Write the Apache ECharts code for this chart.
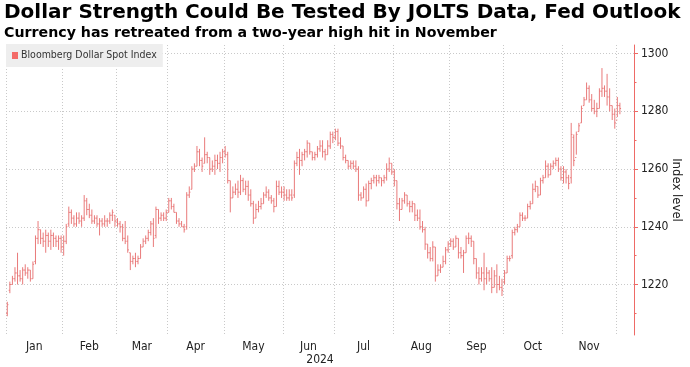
<!DOCTYPE html>
<html>
<head>
<meta charset="utf-8">
<script src="https://cdn.jsdelivr.net/npm/echarts@6/dist/echarts.min.js"></script>
<style>
html,body{margin:0;padding:0;background:#fff;}
#chart{width:690px;height:367px;}
</style>
</head>
<body>
<div id="chart"></div>
<script>
// ---------- DATA ----------
const titleText = 'Dollar Strength Could Be Tested By JOLTS Data, Fed Outlook';
const subtitleText = 'Currency has retreated from a two-year high hit in November';
const seriesName = 'Bloomberg Dollar Spot Index';
const yAxisName = 'Index level';
const yearLabel = '2024';
const monthLabels = ['Jan','Feb','Mar','Apr','May','Jun','Jul','Aug','Sep','Oct','Nov'];
const yTickValues = [1220, 1240, 1260, 1280, 1300];
const yMinorTickValues = [1210, 1230, 1250, 1270, 1290];
const yMin = 1202.5, yMax = 1303;

// trading-day categories (weekdays, exchange holidays removed), axis runs a few days past the data
const firstDay = '2024-01-02', lastDay = '2024-12-10';
const holidays = ['2024-03-29'];

// OHLC, one value per trading day from 2 Jan 2024 to 3 Dec 2024
const opens = [
1210,1218,1220,1222,1224,1223,1222,1225,1224,1225,1222,1228,1236,1239,1236,1235,1237,1235,1237,1236,1235,1236,
1233,1235,1241,1245,1243,1241,1243,1242,1243,1249,1246,1244,1242,1243,1241,1242,1241,1242,1242,1244,1244,
1242,1241,1240,1236,1235,1231,1228,1229,1228,1229,1233,1235,1236,1238,1241,1237,1246,1243,1244,1243,
1245,1249,1247,1245,1242,1241,1240,1240,1251,1253,1260,1261,1266,1263,1262,1265,1264,1260,1261,1263,1262,1264,
1266,1265,1256,1250,1252,1253,1252,1256,1253,1254,1251,1248,1243,1246,1247,1248,1251,1252,1250,1249,1247,1254,1252,
1252,1251,1250,1251,1251,1262,1264,1263,1265,1266,1269,1266,1264,1265,1267,1268,1266,1265,1268,1272,
1271,1273,1269,1268,1264,1263,1261,1262,1261,1260,1251,1250,1253,1249,1255,1256,1257,1256,1257,1256,1257,1260,1262,
1259,1256,1248,1246,1249,1251,1248,1247,1248,1244,1243,1240,1239,1234,1231,1229,1233,1223,1225,1226,1228,1232,
1234,1235,1233,1236,1231,1230,1231,1236,1236,1235,1229,1224,1222,1224,1222,1224,1222,1219,1223,1220,1219,
1221,1224,1229,1230,1238,1239,1240,1244,1243,1243,1247,1248,1253,1254,1251,1256,1257,1261,1258,1261,1262,1263,1260,
1257,1259,1257,1257,1271,1264,1273,1276,1282,1284,1288,1284,1281,1280,1281,1287,1288,1287,1285,1282,1279,
1277,1282
];
const highs = [
1214,1221,1223,1226,1231,1225,1226,1227,1226,1225,1228,1237,1242,1239,1238,1239,1238,1239,1238,1237,1237,1237,
1237,1241,1247,1246,1244,1245,1245,1244,1251,1250,1248,1246,1244,1244,1243,1243,1244,1243,1245,1246,1244,
1243,1242,1241,1242,1237,1231,1230,1231,1230,1234,1236,1237,1239,1242,1243,1247,1246,1245,1245,1246,
1250,1250,1248,1245,1243,1242,1241,1252,1254,1261,1262,1268,1267,1264,1271,1266,1264,1263,1265,1265,1266,1267,
1268,1266,1256,1254,1255,1256,1258,1257,1256,1256,1253,1249,1248,1249,1250,1252,1254,1253,1251,1250,1256,1256,1254,
1254,1253,1253,1253,1263,1266,1267,1266,1267,1270,1269,1266,1266,1268,1270,1270,1267,1270,1273,1273,
1274,1274,1271,1268,1265,1263,1263,1263,1263,1261,1252,1254,1255,1256,1257,1258,1258,1258,1257,1258,1262,1264,1262,
1260,1256,1250,1250,1252,1251,1249,1249,1248,1246,1246,1242,1240,1234,1233,1235,1233,1227,1227,1230,1233,1235,
1236,1236,1237,1236,1233,1232,1237,1238,1237,1235,1229,1226,1226,1231,1226,1225,1226,1225,1227,1223,1222,
1225,1230,1230,1239,1240,1241,1245,1245,1244,1248,1249,1255,1256,1254,1257,1258,1263,1262,1262,1263,1264,1264,1261,
1261,1260,1258,1276,1272,1273,1276,1282,1285,1290,1289,1286,1284,1283,1288,1295,1289,1293,1288,1282,1281,
1285,1283
];
const lows = [
1209,1217,1220,1221,1220,1221,1220,1223,1222,1221,1222,1227,1234,1234,1233,1231,1233,1232,1233,1233,1232,1231,
1230,1234,1240,1241,1240,1240,1241,1240,1242,1244,1243,1241,1241,1240,1237,1240,1240,1240,1241,1242,1240,
1240,1238,1235,1234,1231,1225,1227,1226,1227,1229,1233,1234,1235,1237,1233,1236,1241,1242,1242,1242,
1245,1246,1245,1241,1240,1240,1238,1239,1250,1253,1259,1261,1261,1259,1262,1262,1258,1259,1258,1260,1259,1262,
1264,1255,1245,1250,1251,1250,1251,1252,1251,1249,1247,1241,1243,1245,1246,1248,1250,1249,1248,1245,1247,1251,1250,
1249,1249,1249,1249,1250,1261,1258,1261,1263,1264,1265,1263,1263,1264,1266,1264,1263,1265,1267,1269,
1270,1268,1267,1263,1262,1260,1260,1260,1259,1249,1249,1250,1247,1249,1253,1255,1254,1255,1254,1255,1256,1259,1258,
1254,1246,1242,1246,1248,1247,1245,1245,1242,1242,1239,1238,1232,1229,1228,1228,1221,1223,1224,1226,1227,1231,
1233,1232,1233,1229,1229,1224,1231,1234,1233,1227,1222,1220,1221,1218,1220,1221,1217,1219,1217,1218,1216,
1220,1224,1228,1229,1237,1238,1240,1242,1242,1243,1246,1248,1252,1250,1251,1255,1257,1257,1258,1260,1261,1259,1256,
1255,1255,1253,1255,1261,1265,1273,1276,1282,1284,1283,1280,1279,1278,1281,1285,1285,1282,1280,1277,1274,
1278,1279
];
const closes = [
1213,1220,1222,1224,1223,1222,1225,1224,1225,1222,1227,1236,1239,1236,1235,1237,1235,1237,1236,1235,1236,1233,
1235,1240,1245,1243,1241,1243,1242,1243,1249,1246,1244,1242,1243,1241,1242,1241,1242,1242,1244,1245,1242,
1241,1240,1236,1235,1232,1228,1229,1228,1229,1233,1235,1236,1238,1241,1236,1246,1243,1244,1243,1245,
1249,1247,1245,1242,1241,1240,1239,1251,1252,1260,1261,1266,1263,1261,1265,1264,1260,1261,1263,1262,1264,1266,
1265,1256,1250,1252,1253,1252,1256,1253,1254,1251,1248,1243,1246,1247,1248,1251,1252,1250,1249,1247,1254,1252,1252,
1251,1250,1251,1250,1262,1264,1263,1265,1266,1269,1266,1264,1265,1267,1268,1266,1265,1268,1272,1271,
1273,1269,1268,1264,1263,1261,1262,1261,1260,1251,1250,1253,1249,1255,1256,1257,1256,1257,1256,1257,1260,1262,1259,
1256,1248,1246,1249,1251,1248,1247,1248,1244,1243,1240,1239,1234,1231,1229,1233,1223,1225,1226,1228,1232,1234,
1235,1233,1236,1231,1230,1231,1236,1236,1235,1229,1224,1222,1224,1222,1224,1222,1219,1223,1220,1219,1218,
1224,1229,1229,1238,1239,1240,1244,1243,1243,1247,1248,1253,1254,1251,1256,1257,1261,1258,1261,1262,1263,1260,1257,
1259,1257,1255,1272,1263,1272,1275,1281,1284,1288,1284,1281,1280,1281,1287,1288,1287,1285,1282,1279,1276,
1282,1281
];

// ---------- BUILD ----------
function buildDays(from, to, skip) {
  const out = [];
  const d = new Date(from + 'T00:00:00Z');
  const end = new Date(to + 'T00:00:00Z');
  while (d <= end) {
    const wd = d.getUTCDay();
    const s = d.toISOString().slice(0, 10);
    if (wd !== 0 && wd !== 6 && skip.indexOf(s) < 0) out.push(s);
    d.setUTCDate(d.getUTCDate() + 1);
  }
  return out;
}
const days = buildDays(firstDay, lastDay, holidays);
const N = days.length;

const monthStart = [];
let prevM = -1;
days.forEach((s, i) => { const m = +s.slice(5, 7); if (m !== prevM) { monthStart.push(i); prevM = m; } });
const monthMid = [];
for (let k = 0; k < monthLabels.length; k++) monthMid.push((monthStart[k] + monthStart[k + 1]) / 2);

const ohlc = closes.map((c, i) => [i, opens[i], highs[i], lows[i], c]);

const barColor = '#e97a7a';
const gridColor = '#c9c9c9';
const axisRed = '#ee6a66';
const font = 'DejaVu Sans';
const condFont = '"DejaVu Sans Condensed", "DejaVu Sans"';

const chart = echarts.init(document.getElementById('chart'), null, {renderer: 'canvas'});
chart.setOption({
  animation: false,
  backgroundColor: '#fff',
  textStyle: {fontFamily: font},
  title: [
    {text: titleText, left: 4, top: 3, padding: 0,
     textStyle: {fontFamily: font, fontSize: 20, fontWeight: 'bold', color: '#000'}},
    {text: subtitleText, left: 4, top: 26, padding: 0,
     textStyle: {fontFamily: font, fontSize: 14.2, fontWeight: 'bold', color: '#000'}}
  ],
  legend: {
    left: 6, top: 44, padding: [6, 6, 6, 6],
    backgroundColor: '#eeeeee',
    itemWidth: 6, itemHeight: 7, itemGap: 4,
    icon: 'rect',
    textStyle: {fontFamily: condFont, fontSize: 10.5, color: '#333', padding: [0, 0, 0, -2]},
    data: [{name: seriesName, itemStyle: {color: '#f36b68'}}]
  },
  grid: {left: 6, right: 56, top: 45, bottom: 32, containLabel: false, outerBoundsMode: 'none'},
  xAxis: [
    {
      type: 'category', data: days, boundaryGap: true,
      axisLine: {show: false, onZero: false}, axisTick: {show: false}, axisLabel: {show: false}, splitLine: {show: false}
    },
    {
      type: 'value', min: 0, max: N, position: 'bottom',
      axisLine: {show: false, onZero: false},
      axisTick: {show: false, customValues: monthStart.slice(0, monthLabels.length + 1)},
      splitLine: {show: true, lineStyle: {color: gridColor, type: [1, 2], width: 1}},
      axisLabel: {
        customValues: monthMid, margin: 6,
        fontFamily: condFont, fontSize: 12, color: '#222',
        formatter: function (v) {
          for (let k = 0; k < monthMid.length; k++) if (Math.abs(monthMid[k] - v) < 0.01) return monthLabels[k];
          return '';
        }
      },
      name: yearLabel, nameLocation: 'middle', nameGap: 19, nameMoveOverlap: false,
      nameTextStyle: {fontFamily: condFont, fontSize: 12, color: '#222'}
    }
  ],
  yAxis: [
    {
      type: 'value', position: 'right', min: yMin, max: yMax,
      axisLine: {show: true, onZero: false, lineStyle: {color: axisRed, width: 1}},
      axisTick: {show: true, length: 4, customValues: yTickValues, lineStyle: {color: axisRed}},
      axisLabel: {customValues: yTickValues, margin: 7, fontFamily: condFont, fontSize: 12, color: '#222',
                  formatter: function (v) { return String(v); }},
      splitLine: {show: true, lineStyle: {color: gridColor, type: [1, 2], width: 1}},
      name: yAxisName, nameLocation: 'middle', nameRotate: -90, nameGap: 36, nameMoveOverlap: false,
      nameTextStyle: {fontFamily: condFont, fontSize: 13, color: '#222'}
    },
    {
      type: 'value', position: 'right', min: yMin, max: yMax,
      axisLine: {show: false, onZero: false},
      axisTick: {show: true, length: 2.5, customValues: yMinorTickValues, lineStyle: {color: axisRed}},
      axisLabel: {show: false}, splitLine: {show: false}
    }
  ],
  series: [{
    name: seriesName,
    type: 'custom',
    xAxisIndex: 0, yAxisIndex: 0,
    itemStyle: {color: '#f36b68'},
    encode: {x: 0, y: [1, 2, 3, 4]},
    data: ohlc,
    renderItem: function (params, api) {
      const i = api.value(0);
      const pO = api.coord([i, api.value(1)]);
      const pH = api.coord([i, api.value(2)]);
      const pL = api.coord([i, api.value(3)]);
      const pC = api.coord([i, api.value(4)]);
      const w = api.size([1, 0])[0];
      const t = Math.max(1, w * 0.45);
      const x = pO[0];
      const st = {stroke: barColor, lineWidth: 1};
      return {type: 'group', children: [
        {type: 'line', shape: {x1: x, y1: pH[1], x2: x, y2: pL[1]}, style: st},
        {type: 'line', shape: {x1: x - t, y1: pO[1], x2: x, y2: pO[1]}, style: st},
        {type: 'line', shape: {x1: x, y1: pC[1], x2: x + t, y2: pC[1]}, style: st}
      ]};
    }
  }]
});
</script>
</body>
</html>
